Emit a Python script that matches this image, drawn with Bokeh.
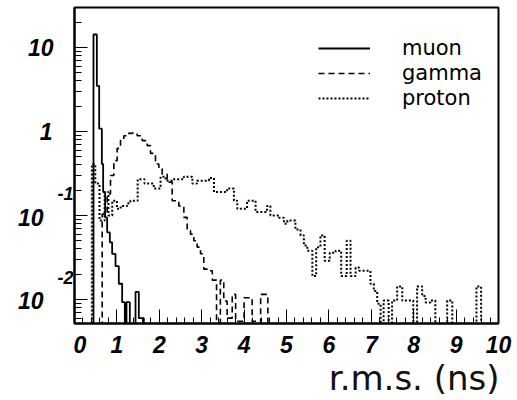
from bokeh.plotting import figure
from bokeh.layouts import row
from bokeh.core.properties import value
from bokeh.models import (Range1d, FixedTicker, SingleIntervalTicker, Title,
                          Legend, LegendItem, ColumnDataSource, CustomJSTickFormatter)
from bokeh.embed import file_html
from bokeh.resources import INLINE

# ---------------- data ----------------
muon_edges = [0.448, 0.527, 0.582, 0.645, 0.676, 0.723, 0.770, 0.833, 0.888,
              0.967, 1.045, 1.124, 1.187, 1.226, 1.305, 1.439, 1.517, 1.635]
muon_vals = [14.3, 3.5, 1.08, 0.41, 0.19, 0.095, 0.063, 0.048, 0.035,
             0.025, 0.0154, 0.0093, 0, 0.0093, 0, 0.0123, 0.006]

gamma_edges = [0.653, 0.771, 0.849, 0.928, 1.006, 1.085, 1.163, 1.242, 1.36,
               1.478, 1.596, 1.714, 1.792, 1.91, 1.989, 2.067, 2.186, 2.304,
               2.461, 2.579, 2.657, 2.736, 2.814, 2.893, 2.972, 3.05, 3.13,
               3.25, 3.35, 3.44, 3.52, 3.60, 3.72, 3.80, 3.92, 4.00, 4.19,
               4.31, 4.39, 4.56]
gamma_vals = [0.104, 0.18, 0.30, 0.45, 0.63, 0.78, 0.89, 0.95, 0.96,
              0.89, 0.78, 0.68, 0.55, 0.41, 0.36, 0.31, 0.25, 0.15,
              0.13, 0.095, 0.066, 0.06, 0.05, 0.042, 0.035, 0.023, 0.022,
              0.017, 0, 0.017, 0.0096, 0.006, 0.0115, 0.0055, 0.0055, 0.0105,
              0.0055, 0, 0.0115]

proton_edges = [0.41, 0.49, 0.59, 0.71, 0.80, 0.89, 1.00, 1.09, 1.24, 1.32,
                1.49, 1.65, 1.87, 2.03, 2.15, 2.30, 2.58, 2.78, 2.89, 3.17,
                3.29, 3.60, 3.76, 3.84, 4.07, 4.27, 4.54, 4.62, 4.82, 4.94,
                5.02, 5.21, 5.33, 5.41, 5.49, 5.61, 5.70, 5.80, 5.90, 6.02,
                6.16, 6.29, 6.42, 6.51, 6.63, 6.71, 6.98, 7.06, 7.14, 7.22,
                7.29, 7.41, 7.49, 7.61, 7.73, 7.99, 8.08, 8.20, 8.28, 8.40,
                8.51, 8.79, 8.91, 9.48, 9.59]
proton_vals = [0.41, 0.24, 0.087, 0.19, 0.10, 0.15, 0.12, 0.13, 0.14,
               0.15, 0.27, 0.24, 0.21, 0.29, 0.26, 0.27, 0.29, 0.24, 0.26,
               0.28, 0.19, 0.21, 0.15, 0.12, 0.15, 0.11, 0.13, 0.10, 0.094,
               0.08, 0.087, 0.068, 0.058, 0.044, 0.038, 0.019, 0.042, 0.058,
               0.029, 0.036, 0.038, 0.019, 0.05, 0.019, 0.024, 0.022, 0.0154,
               0.0126, 0.0089, 0, 0.0097, 0, 0.0097, 0.0143, 0.0097, 0,
               0.0143, 0.011, 0.0092, 0.0097, 0, 0.0097, 0, 0.0143]

y_ticks = [10, 1, 0.1, 0.01]
y_tick_labels = ["10", "1", "10", "10"]
y_exp_ticks = [0.1, 0.01]
y_exp_labels = ["-1", "-2"]
x_title = "r.m.s. (ns)"
names = ["muon", "gamma", "proton"]

FLOOR = 1e-4  # empty bins drawn below the visible range
Y_MIN, Y_MAX = 0.00518, 29.96


def step_source(edges, vals):
    ys = [FLOOR] + [v if v > 0 else FLOOR for v in vals] + [FLOOR]
    xs = [edges[0]] + list(edges)
    return ColumnDataSource(dict(x=xs, y=ys))


LW = 73            # width of the label strip on the left
FW, FH = 424, 316  # plot frame size
TOP = 7

yr = Range1d(Y_MIN, Y_MAX)
p = figure(frame_width=FW, frame_height=FH, output_backend="svg",
           toolbar_location=None, y_axis_type="log",
           x_range=Range1d(0, 10), y_range=yr,
           min_border_left=1, min_border_right=19, min_border_top=TOP,
           min_border_bottom=77)
p.grid.visible = False
p.outline_line_color = "black"
p.outline_line_width = 2
p.background_fill_color = "white"
p.border_fill_color = "white"

# x axis
p.xaxis.ticker = SingleIntervalTicker(interval=1, num_minor_ticks=5)
p.xaxis.major_tick_in = 14
p.xaxis.major_tick_out = 0
p.xaxis.minor_tick_in = 6
p.xaxis.minor_tick_out = 0
p.xaxis.major_label_standoff = 12
p.xaxis.major_label_text_font = "Liberation Sans"
p.xaxis.major_label_text_font_style = "bold italic"
p.xaxis.major_label_text_font_size = "23px"
p.xaxis.major_label_text_color = "black"
p.xaxis.axis_line_width = 2

# y axis: ticks only, labels drawn in the strip on the left
minor = []
for k in range(-3, 2):
    for m in range(2, 10):
        minor.append(m * 10.0 ** k)
p.yaxis.ticker = FixedTicker(ticks=y_ticks, minor_ticks=minor)
p.yaxis.formatter = CustomJSTickFormatter(code="return ''")
p.yaxis.major_label_standoff = 0
p.yaxis.major_tick_in = 13
p.yaxis.major_tick_out = 0
p.yaxis.minor_tick_in = 7
p.yaxis.minor_tick_out = 0
p.yaxis.axis_line_width = 2

# histograms
r_mu = p.step("x", "y", source=step_source(muon_edges, muon_vals), mode="after",
              line_color="black", line_width=1.8)
r_ga = p.step("x", "y", source=step_source(gamma_edges, gamma_vals), mode="after",
              line_color="black", line_width=1.6, line_dash="6 4")
r_pr = p.step("x", "y", source=step_source(proton_edges, proton_vals), mode="after",
              line_color="black", line_width=2, line_dash="2 2")

# x axis title
p.add_layout(Title(text=x_title, align="right", text_font="DejaVu Sans",
                   text_font_style="normal", text_font_size="34px",
                   text_color="#111111", standoff=0, offset=-1), "below")

legend = Legend(items=[LegendItem(label=names[0], renderers=[r_mu]),
                       LegendItem(label=names[1], renderers=[r_ga]),
                       LegendItem(label=names[2], renderers=[r_pr])],
                location=(244, 213), glyph_width=52, glyph_height=20,
                label_height=20, spacing=1, label_standoff=32, padding=0,
                margin=0, border_line_alpha=0, background_fill_alpha=0,
                label_text_font="DejaVu Sans", label_text_font_size="21px",
                label_text_color="black")
p.add_layout(legend)

# ---- left strip holding the ROOT-style y tick labels (shares the y range) ----
lf = figure(frame_width=LW, frame_height=FH, output_backend="svg",
            toolbar_location=None, y_axis_type="log",
            x_range=Range1d(0, LW), y_range=yr,
            x_axis_location=None, y_axis_location=None,
            min_border_left=0, min_border_right=0, min_border_top=TOP,
            min_border_bottom=77)
lf.grid.visible = False
lf.outline_line_color = None
lf.background_fill_color = "white"
lf.border_fill_color = "white"

lab_right = [53, 52, 43, 43]   # right edges of the labels in the strip (px)
lab_dy = [0, 0, -2, -1]        # small downward nudges (px)
lf.text(x=lab_right, y=y_ticks, text=y_tick_labels, y_offset=[-d for d in lab_dy],
        text_align="right", text_baseline="middle",
        text_font=value("Liberation Sans"), text_font_style="bold italic",
        text_font_size="23px", text_color="black")
lf.text(x=[LW, LW], y=y_exp_ticks, text=y_exp_labels, y_offset=-22,
        text_align="right", text_baseline="middle",
        text_font=value("Liberation Sans"), text_font_style="bold italic",
        text_font_size="18px", text_color="black")

layout = row(lf, p)
open("out.html", "w").write(file_html(layout, INLINE))
